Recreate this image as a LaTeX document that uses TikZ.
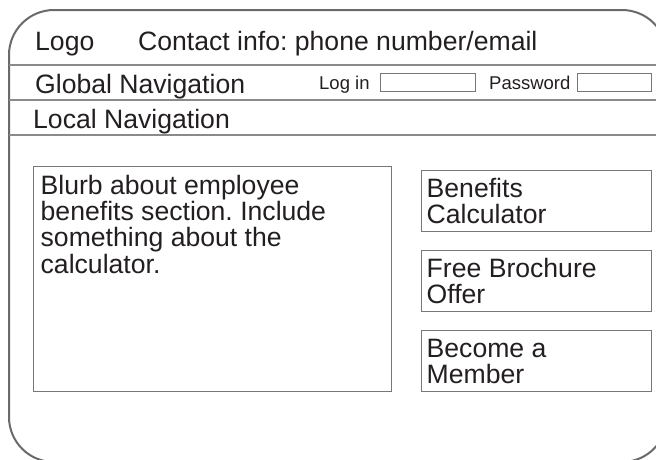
\documentclass[tikz,border=0pt]{standalone}
\usepackage{fontspec}
\setmainfont{Liberation Sans}
\frenchspacing
\definecolor{framegray}{HTML}{6A6A6A}
\definecolor{linegray}{HTML}{8A8A8A}
\definecolor{boxgray}{HTML}{777777}
\definecolor{ink}{HTML}{231F20}
\tikzset{
  bigtext/.style={inner sep=0pt, text=ink, font=\fontsize{26.6}{26.3}\selectfont\frenchspacing, align=left},
  smalltext/.style={inner sep=0pt, text=ink, font=\fontsize{18.5}{18.5}\selectfont},
  box/.style={draw=boxgray, line width=1.1pt, inner sep=0pt},
  inputbox/.style={draw=boxgray, line width=1.2pt, inner sep=0pt},
  rule/.style={draw=linegray, line width=1.8pt},
  frame/.style={draw=framegray, line width=2pt}
}
\begin{document}
\begin{tikzpicture}[x=1pt,y=-1pt]
\useasboundingbox (0,0) rectangle (656,459);
% outer frame (partly cut off)
\draw[frame, rounded corners=45pt] (9,240) -- (9,10) -- (667,10) -- (667,462) -- (9,462) -- cycle;
% rules
\coordinate (r1l) at (9,65);  \coordinate (r1r) at (667,65);
\coordinate (r2l) at (9,100); \coordinate (r2r) at (667,100);
\coordinate (r3l) at (9,135); \coordinate (r3r) at (667,135);
\draw[rule] (r1l) -- (r1r);
\draw[rule] (r2l) -- (r2r);
\draw[rule] (r3l) -- (r3r);
% header texts
\node[bigtext, anchor=base west] (logo) at (35,50) {Logo};
\node[bigtext, anchor=base west] (contact) at (138,50) {Contact info: phone number/email};
\node[bigtext, anchor=base west] (global) at (35,93) {Global Navigation};
\node[smalltext, anchor=base west] (login) at (319,89) {Log in};
\node[inputbox, anchor=north west, minimum width=95pt, minimum height=18.5pt] (loginbox) at (379.5,72.5) {};
\node[smalltext, anchor=base west] (pwd) at (489,89) {Password};
\node[inputbox, anchor=north west, minimum width=74pt, minimum height=18.5pt] (pwdbox) at (577,72.5) {};
\node[bigtext, anchor=base west] (local) at (33,128) {Local Navigation};
% content boxes
\node[box, anchor=north west, minimum width=358pt, minimum height=225pt] (blurbbox) at (32.5,166) {};
\node[bigtext, anchor=base west] (blurb) at (40.5,273) {Blurb about employee\\benefits section. Include\\something about the\\calculator.};
\node[box, anchor=north west, minimum width=230.5pt, minimum height=61.5pt] (calcbox) at (420.5,169.5) {};
\node[bigtext, anchor=base west] (calc) at (426.5,223.5) {Benefits\\Calculator};
\node[box, anchor=north west, minimum width=230.5pt, minimum height=61.5pt] (brochbox) at (420.5,249.5) {};
\node[bigtext, anchor=base west] (broch) at (426.5,303.5) {Free Brochure\\Offer};
\node[box, anchor=north west, minimum width=230.5pt, minimum height=61.5pt] (memberbox) at (420.5,329.5) {};
\node[bigtext, anchor=base west] (member) at (426.5,383.5) {Become a\\Member};
\end{tikzpicture}
\end{document}
